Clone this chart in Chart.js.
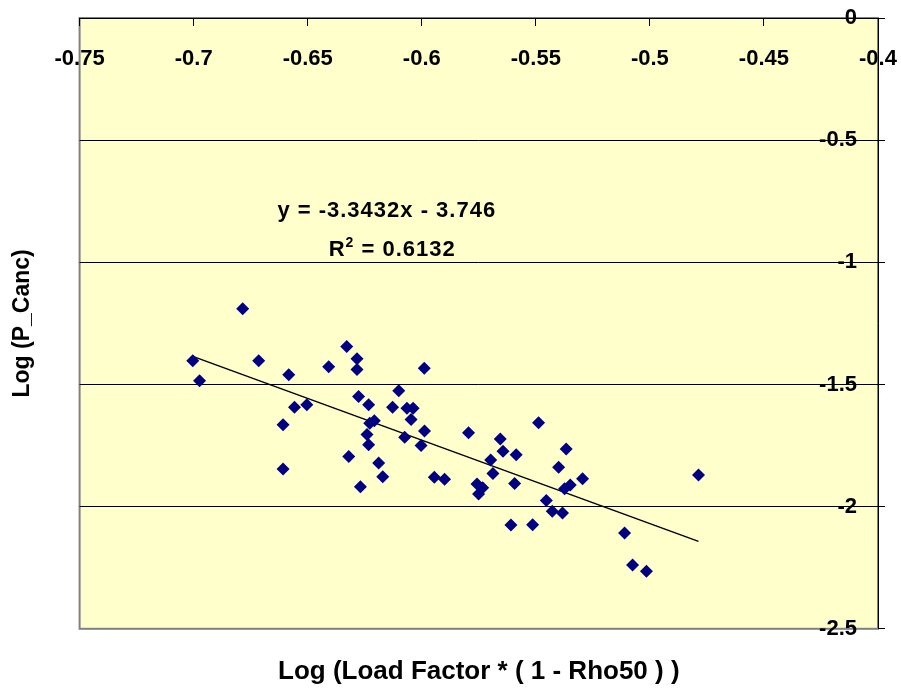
<!DOCTYPE html>
<html>
<head>
<meta charset="utf-8">
<script src="https://cdn.jsdelivr.net/npm/chart.js@4.4.1/dist/chart.umd.min.js"></script>
<style>
  html, body { margin: 0; padding: 0; background: #fff; }
  canvas { display: block; }
</style>
</head>
<body>
<canvas id="chart" width="901" height="688"></canvas>
<script>
// values
const loadFactor = [
  -0.7004, -0.6974, -0.6785, -0.6715, -0.6583, -0.6558, -0.6504, -0.6608, -0.6608, -0.6408,
  -0.6329, -0.6284, -0.6284, -0.6277, -0.6233, -0.6208, -0.6228, -0.6240, -0.6233, -0.6320,
  -0.6189, -0.6171, -0.6269, -0.6101, -0.6128, -0.6065, -0.6038, -0.6047, -0.6075, -0.5989,
  -0.5988, -0.6003, -0.5945, -0.5900, -0.5795, -0.5758, -0.5733, -0.5751, -0.5656, -0.5644,
  -0.5586, -0.5698, -0.5688, -0.5593, -0.5609, -0.5514, -0.5488, -0.5367, -0.5400, -0.5349,
  -0.5374, -0.5295, -0.5454, -0.5428, -0.5383, -0.5111, -0.4787, -0.5076, -0.5015
];
const pCanc = [
  -1.403, -1.485, -1.190, -1.403, -1.460, -1.593, -1.583, -1.665, -1.846, -1.427,
  -1.345, -1.395, -1.439, -1.549, -1.583, -1.648, -1.659, -1.705, -1.747, -1.795,
  -1.821, -1.878, -1.919, -1.526, -1.593, -1.597, -1.597, -1.643, -1.716, -1.434,
  -1.690, -1.750, -1.880, -1.888, -1.698, -1.907, -1.923, -1.948, -1.723, -1.773,
  -1.788, -1.809, -1.864, -1.905, -2.075, -2.074, -1.657, -1.764, -1.839, -1.911,
  -1.927, -1.886, -1.975, -2.019, -2.026, -2.108, -1.870, -2.239, -2.264
];
const trendX = [-0.7004, -0.4787];
const trendY = [-1.385, -2.142];
const xTicks = [-0.75, -0.7, -0.65, -0.6, -0.55, -0.5, -0.45, -0.4];
const yTicks = [0, -0.5, -1, -1.5, -2, -2.5];
const equationText = 'y = -3.3432x - 3.746';
const r2Text = ' = 0.6132';

const FONT = 'Liberation Sans, Arial, sans-serif';
const fmt = v => String(+v.toFixed(2));

const plotBackground = {
  id: 'plotBackground',
  beforeDraw(chart) {
    const { ctx, chartArea: a } = chart;
    ctx.save();
    ctx.fillStyle = '#FFFFCC';
    ctx.fillRect(a.left, a.top, a.right - a.left, a.bottom - a.top);
    ctx.strokeStyle = '#808080';
    ctx.lineWidth = 2;
    ctx.strokeRect(a.left, a.top, a.right - a.left, a.bottom - a.top);
    ctx.restore();
  }
};

const equationLabel = {
  id: 'equationLabel',
  afterDatasetsDraw(chart) {
    const { ctx, scales } = chart;
    ctx.save();
    ctx.fillStyle = '#000';
    ctx.textBaseline = 'alphabetic';
    ctx.textAlign = 'left';
    ctx.font = 'bold 22px ' + FONT;
    ctx.letterSpacing = '1px';
    ctx.fillText(equationText, scales.x.getPixelForValue(-0.6633), scales.y.getPixelForValue(-0.8156));
    let x = scales.x.getPixelForValue(-0.6408);
    const y = scales.y.getPixelForValue(-0.9754);
    ctx.fillText('R', x, y);
    x += ctx.measureText('R').width;
    ctx.font = 'bold 14px ' + FONT;
    ctx.fillText('2', x, y - 9);
    x += ctx.measureText('2').width;
    ctx.font = 'bold 22px ' + FONT;
    ctx.fillText(r2Text, x, y);
    ctx.restore();
  }
};

new Chart(document.getElementById('chart'), {
  type: 'scatter',
  data: {
    datasets: [
      {
        label: 'P_Canc',
        data: loadFactor.map((x, i) => ({ x, y: pCanc[i] })),
        xAxisID: 'x',
        yAxisID: 'y',
        pointStyle: 'rectRot',
        pointRadius: 6.5,
        backgroundColor: '#000080',
        borderColor: '#000080',
        borderWidth: 0
      },
      {
        type: 'line',
        label: 'Trend',
        data: trendX.map((x, i) => ({ x, y: trendY[i] })),
        xAxisID: 'x',
        yAxisID: 'y',
        borderColor: '#000',
        borderWidth: 1.5,
        pointRadius: 0,
        fill: false
      }
    ]
  },
  options: {
    responsive: false,
    animation: false,
    layout: { padding: { top: 18, right: 16, bottom: 0, left: 8 } },
    plugins: { legend: { display: false }, tooltip: { enabled: false } },
    scales: {
      x: {
        axis: 'x',
        type: 'linear',
        position: { y: 0 },
        min: -0.75,
        max: -0.4,
        afterBuildTicks: s => { s.ticks = xTicks.map(value => ({ value })); },
        afterFit: s => { s.paddingLeft = 0; s.paddingRight = 0; },
        ticks: {
          callback: fmt,
          color: '#000',
          font: { family: FONT, size: 22, weight: 'bold' },
          padding: 21,
          maxRotation: 0,
          autoSkip: false
        },
        grid: { drawOnChartArea: false, tickLength: 7, color: '#000' },
        border: { color: '#000', width: 1 }
      },
      y: {
        type: 'linear',
        position: 'right',
        min: -2.5,
        max: 0,
        afterBuildTicks: s => { s.ticks = yTicks.map(value => ({ value })); },
        afterFit: s => { s.width = 7; s.paddingTop = 0; s.paddingBottom = 0; },
        ticks: {
          callback: fmt,
          mirror: true,
          padding: -21,
          color: '#000',
          font: { family: FONT, size: 22, weight: 'bold' }
        },
        grid: {
          color: c => (c.tick && (c.tick.value === -2.5 || c.tick.value === 0)) ? 'rgba(0,0,0,0)' : '#000',
          tickColor: '#000',
          tickLength: 7,
          lineWidth: 1
        },
        border: { color: '#000', width: 1 }
      },
      yl: {
        type: 'linear',
        position: 'left',
        ticks: { display: false },
        grid: { display: false, drawTicks: false },
        border: { display: false },
        title: {
          display: true,
          text: 'Log (P_Canc)',
          color: '#000',
          font: { family: FONT, size: 23, weight: 'bold' },
          padding: { top: 1, bottom: 43 }
        }
      },
      xb: {
        type: 'linear',
        position: 'bottom',
        ticks: { display: false },
        grid: { display: false, drawTicks: false },
        border: { display: false },
        title: {
          display: true,
          text: 'Log (Load Factor * ( 1 - Rho50 ) )',
          color: '#000',
          font: { family: FONT, size: 26, weight: 'bold' },
          padding: { top: 27, bottom: 1 }
        }
      }
    }
  },
  plugins: [plotBackground, equationLabel]
});
</script>
</body>
</html>
